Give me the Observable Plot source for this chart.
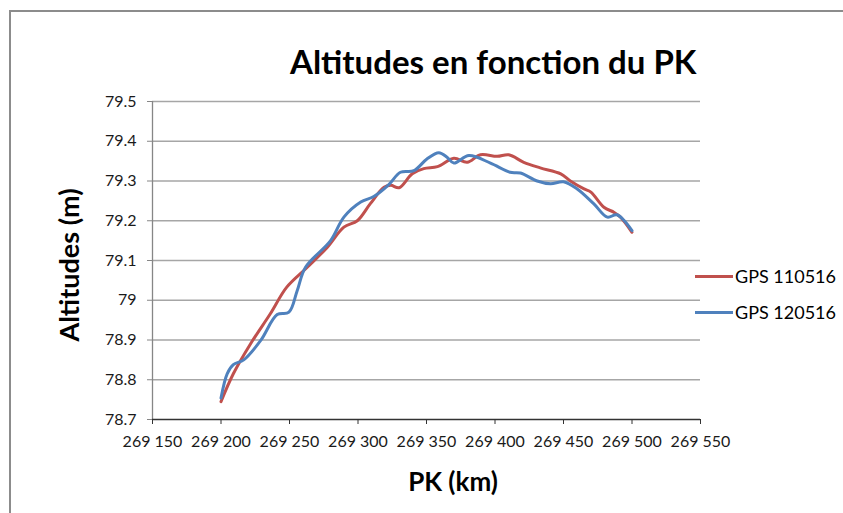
<!DOCTYPE html>
<html>
<head>
<meta charset="utf-8">
<script src="https://cdn.jsdelivr.net/npm/d3@7"></script>
<script src="https://cdn.jsdelivr.net/npm/@observablehq/plot@0.6"></script>
<style>
  html, body { margin: 0; padding: 0; background: #fff; }
  #wrap { position: relative; width: 843px; height: 513px; overflow: hidden; font-family: Lato, "Open Sans", sans-serif; }
  #border { position: absolute; left: 9px; top: 10px; width: 900px; height: 600px; border: 2px solid #8c8c8c; box-sizing: border-box; }
  #chart { position: absolute; left: 0; top: 0; }
  .title { position: absolute; left: 290px; top: 41px; font-size: 33px; font-weight: 700; color: #000; white-space: nowrap; }
  .xlab { position: absolute; left: 0; width: 906px; text-align: center; top: 465px; font-size: 26px; font-weight: 700; color: #000; }
  .ylab { position: absolute; left: 68px; top: 265px; transform: translate(-50%, -50%) rotate(-90deg); font-size: 27px; font-weight: 700; color: #000; white-space: nowrap; }
  .leg { position: absolute; left: 695px; font-size: 18px; color: #000; white-space: nowrap; display: flex; align-items: center; }
  .leg span.sw { display: inline-block; width: 38px; height: 3px; margin-right: 2px; }
</style>
</head>
<body>
<div id="wrap">
  <div id="border"></div>
  <div id="chart"></div>
</div>
<script>
// Data
const series1Name = "GPS 110516";
const series2Name = "GPS 120516";
const pk1 = [269200, 269209, 269221.5, 269236, 269248, 269263, 269277.5, 269289.7, 269299.5, 269309, 269319, 269324, 269330, 269339.6, 269348, 269358, 269370, 269379.7, 269389.4, 269401.6, 269410, 269421, 269433, 269448, 269455, 269465, 269470, 269479.5, 269487, 269491.6, 269500];
const alt1 = [78.745, 78.815, 78.89, 78.966, 79.033, 79.083, 79.133, 79.184, 79.20, 79.243, 79.284, 79.289, 79.283, 79.318, 79.331, 79.336, 79.357, 79.347, 79.366, 79.362, 79.366, 79.347, 79.333, 79.318, 79.30, 79.28, 79.272, 79.234, 79.221, 79.209, 79.171];
const pk2 = [269200, 269204.5, 269209, 269216.6, 269229, 269241, 269249.6, 269255.6, 269261.7, 269280, 269289.7, 269302, 269311.5, 269322.5, 269331, 269340.8, 269350.5, 269359, 269365, 269370, 269381, 269396.7, 269411, 269418.6, 269430.8, 269440.5, 269450, 269460, 269472, 269482, 269489, 269500];
const alt2 = [78.754, 78.815, 78.838, 78.85, 78.899, 78.964, 78.97, 79.024, 79.083, 79.15, 79.209, 79.247, 79.261, 79.291, 79.322, 79.326, 79.356, 79.371, 79.36, 79.345, 79.364, 79.345, 79.322, 79.32, 79.30, 79.293, 79.298, 79.28, 79.243, 79.209, 79.215, 79.175];
const xTicks = [269150, 269200, 269250, 269300, 269350, 269400, 269450, 269500, 269550];
const yTicks = [78.7, 78.8, 78.9, 79.0, 79.1, 79.2, 79.3, 79.4, 79.5];
const titleText = "Altitudes en fonction du PK";
const xLabel = "PK (km)";
const yLabel = "Altitudes (m)";
const colors = ["#C0504D", "#4F81BD"];

const d1 = pk1.map((x, i) => ({x, y: alt1[i]}));
const d2 = pk2.map((x, i) => ({x, y: alt2[i]}));

const fmtX = d => d3.format(",")(d).replace(",", " ");
const fmtY = d => String(+d.toFixed(1));

const plot = Plot.plot({
  width: 843,
  height: 513,
  marginLeft: 152,
  marginRight: 143,
  marginTop: 101,
  marginBottom: 94,
  style: {fontFamily: "Lato, 'Open Sans', sans-serif", fontSize: "16px", color: "#1a1a1a", background: "transparent"},
  x: {domain: [269150, 269550]},
  y: {domain: [78.7, 79.5]},
  marks: [
    Plot.ruleY(yTicks.filter(v => v > 78.7), {stroke: "#a6a6a6", strokeWidth: 1.3}),
    Plot.ruleX([xTicks[0]], {stroke: "#868686", strokeWidth: 1.3}),
    Plot.ruleY([yTicks[0]], {stroke: "#333", strokeWidth: 1.3}),
    Plot.axisX({ticks: xTicks, tickFormat: fmtX, tickSize: 5, tickPadding: 11, label: null, stroke: "#333"}),
    Plot.axisY({ticks: yTicks, tickFormat: fmtY, tickSize: 5, tickPadding: 11, label: null, stroke: "#868686"}),
    Plot.line(d1, {x: "x", y: "y", curve: "catmull-rom", stroke: colors[0], strokeWidth: 3}),
    Plot.line(d2, {x: "x", y: "y", curve: "catmull-rom", stroke: colors[1], strokeWidth: 3})
  ]
});
document.getElementById("chart").appendChild(plot);

const wrap = document.getElementById("wrap");
function addDiv(cls, text, style) {
  const el = document.createElement("div");
  el.className = cls;
  el.textContent = text;
  if (style) Object.assign(el.style, style);
  wrap.appendChild(el);
  return el;
}
addDiv("title", titleText);
addDiv("xlab", xLabel);
addDiv("ylab", yLabel);
[series1Name, series2Name].forEach((name, i) => {
  const el = document.createElement("div");
  el.className = "leg";
  el.style.top = (265 + i * 36) + "px";
  const sw = document.createElement("span");
  sw.className = "sw";
  sw.style.background = colors[i];
  el.appendChild(sw);
  el.appendChild(document.createTextNode(name));
  wrap.appendChild(el);
});
</script>
</body>
</html>
